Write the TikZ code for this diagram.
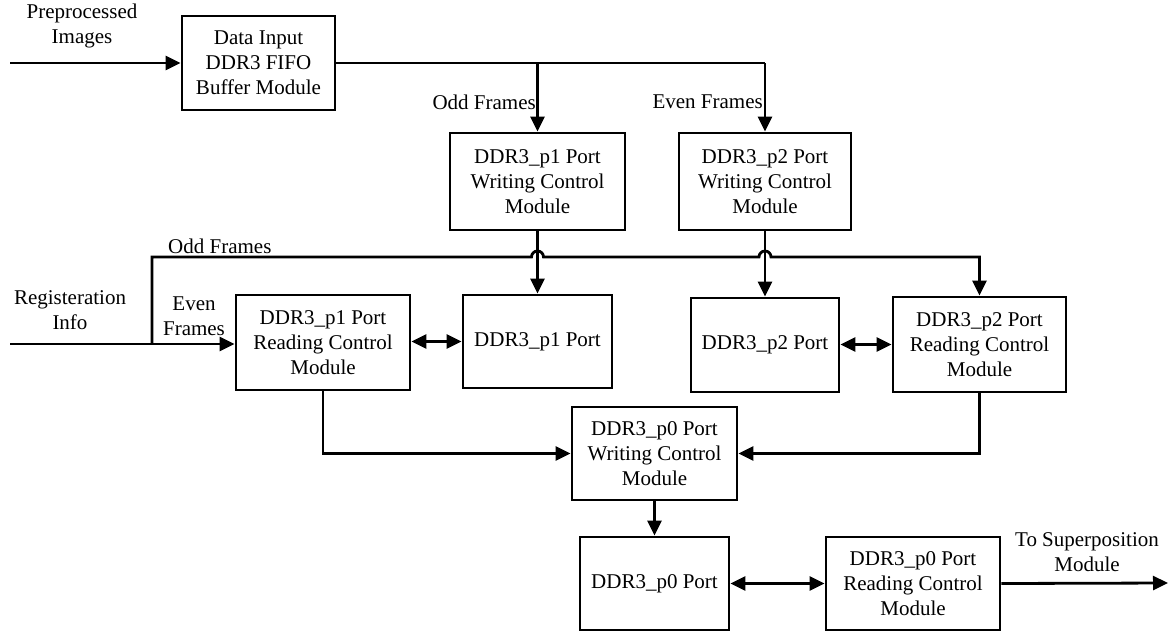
\documentclass[tikz,border=0pt]{standalone}
\usepackage{fontspec}
\setmainfont{Liberation Serif}
\usetikzlibrary{arrows.meta}
\begin{document}
\begin{tikzpicture}[x=1pt,y=-1pt,
  every node/.style={font=\fontsize{21}{25}\selectfont, align=center},
  blk/.style={draw, line width=2.8pt, inner sep=0pt},
  wire/.style={line width=2.8pt},
  arr/.style={wire, -{Triangle[length=15pt,width=14pt]}},
  darr/.style={wire, {Triangle[length=15pt,width=14pt]}-{Triangle[length=15pt,width=14pt]}},
  lbl/.style={inner sep=1pt}]
\useasboundingbox (0,0) rectangle (1171,633);

% module blocks
\node[blk, minimum width=153pt, minimum height=94pt] (fifo) at (258.5,63) {Data Input\\DDR3 FIFO\\Buffer Module};
\node[blk, minimum width=175pt, minimum height=97pt] (w1) at (537.5,181.5) {DDR3\_p1 Port\\Writing Control\\Module};
\node[blk, minimum width=172pt, minimum height=97pt] (w2) at (765,181.5) {DDR3\_p2 Port\\Writing Control\\Module};
\node[blk, minimum width=174pt, minimum height=95pt] (r1) at (323,342.5) {DDR3\_p1 Port\\Reading Control\\Module};
\node[blk, minimum width=149pt, minimum height=93pt] (p1) at (537.5,341.5) {DDR3\_p1 Port};
\node[blk, minimum width=148pt, minimum height=94pt] (p2) at (765,345) {DDR3\_p2 Port};
\node[blk, minimum width=173pt, minimum height=95pt] (r2) at (979.5,344.5) {DDR3\_p2 Port\\Reading Control\\Module};
\node[blk, minimum width=165pt, minimum height=93pt] (w0) at (654.5,453.5) {DDR3\_p0 Port\\Writing Control\\Module};
\node[blk, minimum width=149pt, minimum height=93pt] (p0) at (654.5,583.5) {DDR3\_p0 Port};
\node[blk, minimum width=174pt, minimum height=93pt] (r0) at (913,583.5) {DDR3\_p0 Port\\Reading Control\\Module};

% free ends and junctions
\coordinate (inA) at (10,63);
\coordinate (inB) at (10,344);
\coordinate (split) at (152,344);
\coordinate (outR) at (1168,583);

% text labels
\node[lbl] (tPre) at (82,26) {Preprocessed\\Images};
\node[lbl, anchor=east] (tOdd1) at (537,102) {Odd Frames};
\node[lbl, anchor=east] (tEven1) at (764,102) {Even Frames};
\node[lbl, anchor=west] (tOdd2) at (167,246) {Odd Frames};
\node[lbl] (tReg) at (70,310) {Registeration\\Info};
\node[lbl] (tEven2) at (194,316) {Even\\Frames};
\node[lbl] (tSup) at (1087,552) {To Superposition\\Module};

% image input
\draw[arr] (inA) -- (fifo.west);
% FIFO output split into odd and even frames
\draw[wire] (fifo.east) -- (w2.north |- fifo.east);
\draw[arr] (w1.north |- fifo.east) -- (w1.north);
\draw[arr] (w2.north |- fifo.east) -- (w2.north);

% writing controllers into ports
\draw[arr] (w1.south) -- (p1.north);
\draw[arr] (w2.south) -- (p2.north);

% registration info: even frames straight in, odd frames over the top with hops
\draw[arr] (inB) -- (r1.west |- inB);
\draw[arr] (split) -- (152,257) -- (531.5,257) arc[start angle=180,end angle=360,radius=6]
  -- (759,257) arc[start angle=180,end angle=360,radius=6]
  -- (r2.north |- 0,257) -- (r2.north);

% reading controllers and ports
\draw[darr] (r1.east |- p1.west) -- (p1.west);
\draw[darr] (p2.east |- r2.west) -- (r2.west);

% merge into p0 writing controller
\draw[arr] (r1.south) -- (r1.south |- w0.west) -- (w0.west);
\draw[arr] (r2.south) -- (r2.south |- w0.east) -- (w0.east);
\draw[arr] (w0.south) -- (p0.north);

% p0 port, reader and output
\draw[darr] (p0.east) -- (r0.west);
\draw[arr] (r0.east) -- (outR);
\end{tikzpicture}
\end{document}
